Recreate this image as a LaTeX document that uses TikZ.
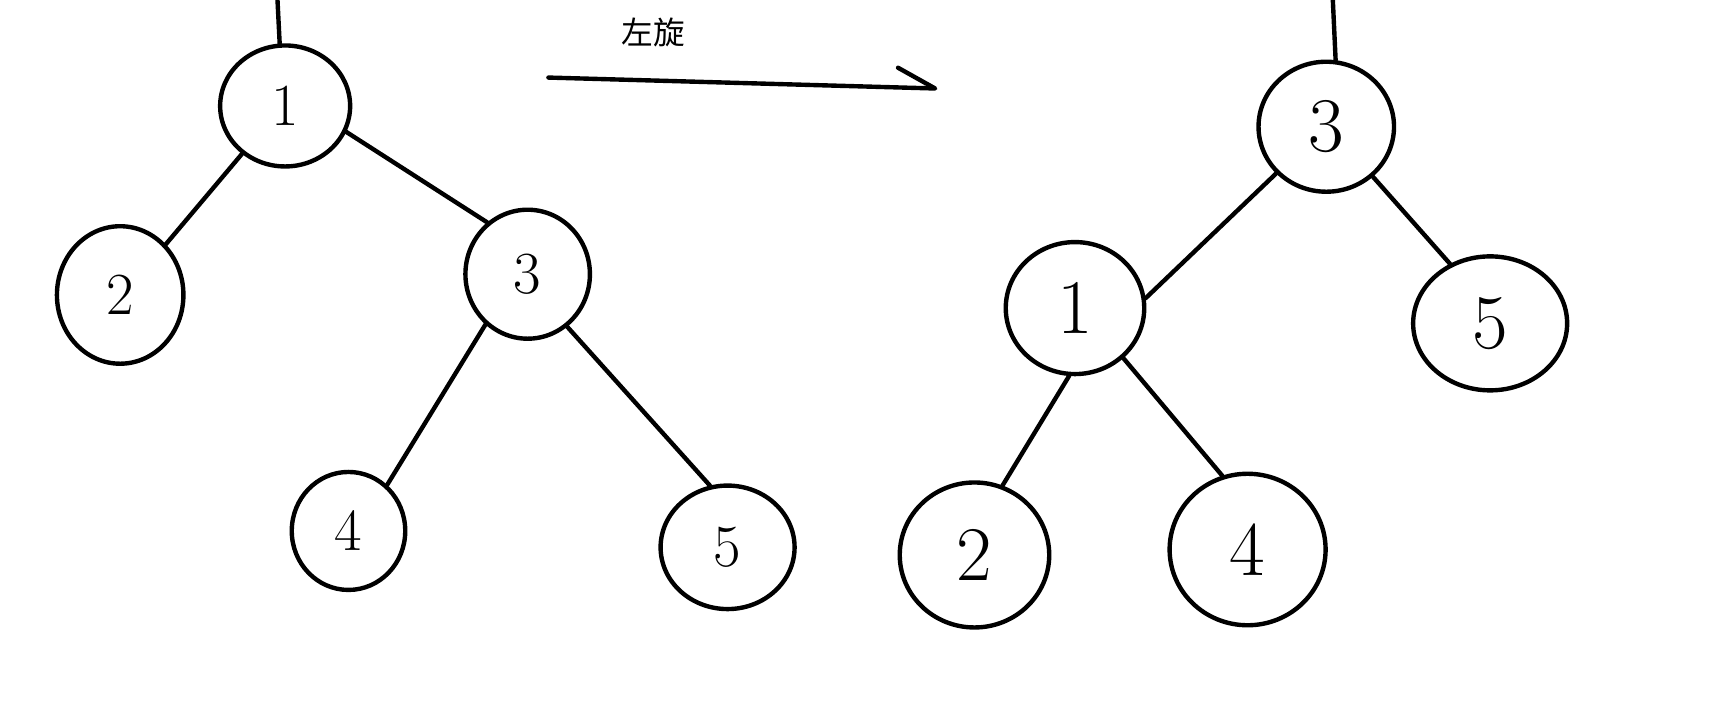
\documentclass[tikz,border=0pt]{standalone}
\usepackage{fontspec}
\newfontfamily\cjk{Noto Sans CJK SC}
\usetikzlibrary{shapes.geometric}

\tikzset{
  uzel/.style 2 args={draw, ellipse, line width=2.5pt, inner sep=0pt,
    minimum width=#1cm, minimum height=#2cm},
  hrana/.style={line width=2.5pt, line cap=round},
  malecislo/.style={font=\fontsize{34}{34}\selectfont},
  velkecislo/.style={font=\fontsize{44}{44}\selectfont},
}

\begin{document}
\begin{tikzpicture}[x=0.02185cm, y=-0.02185cm]
    \useasboundingbox (0,0) rectangle (1568,642);

    % levy strom
    \coordinate (L-top) at (254,0);
    \node[uzel={2.60}{2.42}, malecislo] (L1) at (261,97) {1};
    \node[uzel={2.53}{2.75}, malecislo] (L2) at (110,270) {2};
    \node[uzel={2.49}{2.58}, malecislo] (L3) at (483,251) {3};
    \node[uzel={2.27}{2.36}, malecislo] (L4) at (319,486) {4};
    \node[uzel={2.68}{2.47}, malecislo] (L5) at (666,501) {5};
    \draw[hrana] (L-top) -- (L1.95);
    \draw[hrana] (L1.228) -- (L2.48);
    \draw[hrana] (L1.337) -- (L3.128);
    \draw[hrana] (L3.230) -- (L4.50);
    \draw[hrana] (L3.307) -- (L5.106);

    % sipka
    \node[font=\cjk\fontsize{18}{18}\selectfont] (popis) at (598,30) {左旋};
    \coordinate (sipka-a) at (502,71);
    \coordinate (sipka-b) at (856,81);
    \draw[hrana, line join=round] (sipka-a) -- (sipka-b) -- ++(-34,-19);

    % pravy strom
    \coordinate (R-top) at (1220,0);
    \node[uzel={2.71}{2.60}, velkecislo] (R3) at (1214,116) {3};
    \node[uzel={2.77}{2.64}, velkecislo] (R1) at (984,282) {1};
    \node[uzel={3.08}{2.68}, velkecislo] (R5) at (1364,296) {5};
    \node[uzel={2.99}{2.90}, velkecislo] (R2) at (892,508) {2};
    \node[uzel={3.12}{3.03}, velkecislo] (R4) at (1142,503) {4};
    \draw[hrana] (R-top) -- (R3.82);
    \draw[hrana] (R3.223) -- (R1.8);
    \draw[hrana] (R3.313) -- (R5.124);
    \draw[hrana] (R1.265) -- (R2.68);
    \draw[hrana] (R1.314) -- (R4.109);

\end{tikzpicture}
\end{document}
